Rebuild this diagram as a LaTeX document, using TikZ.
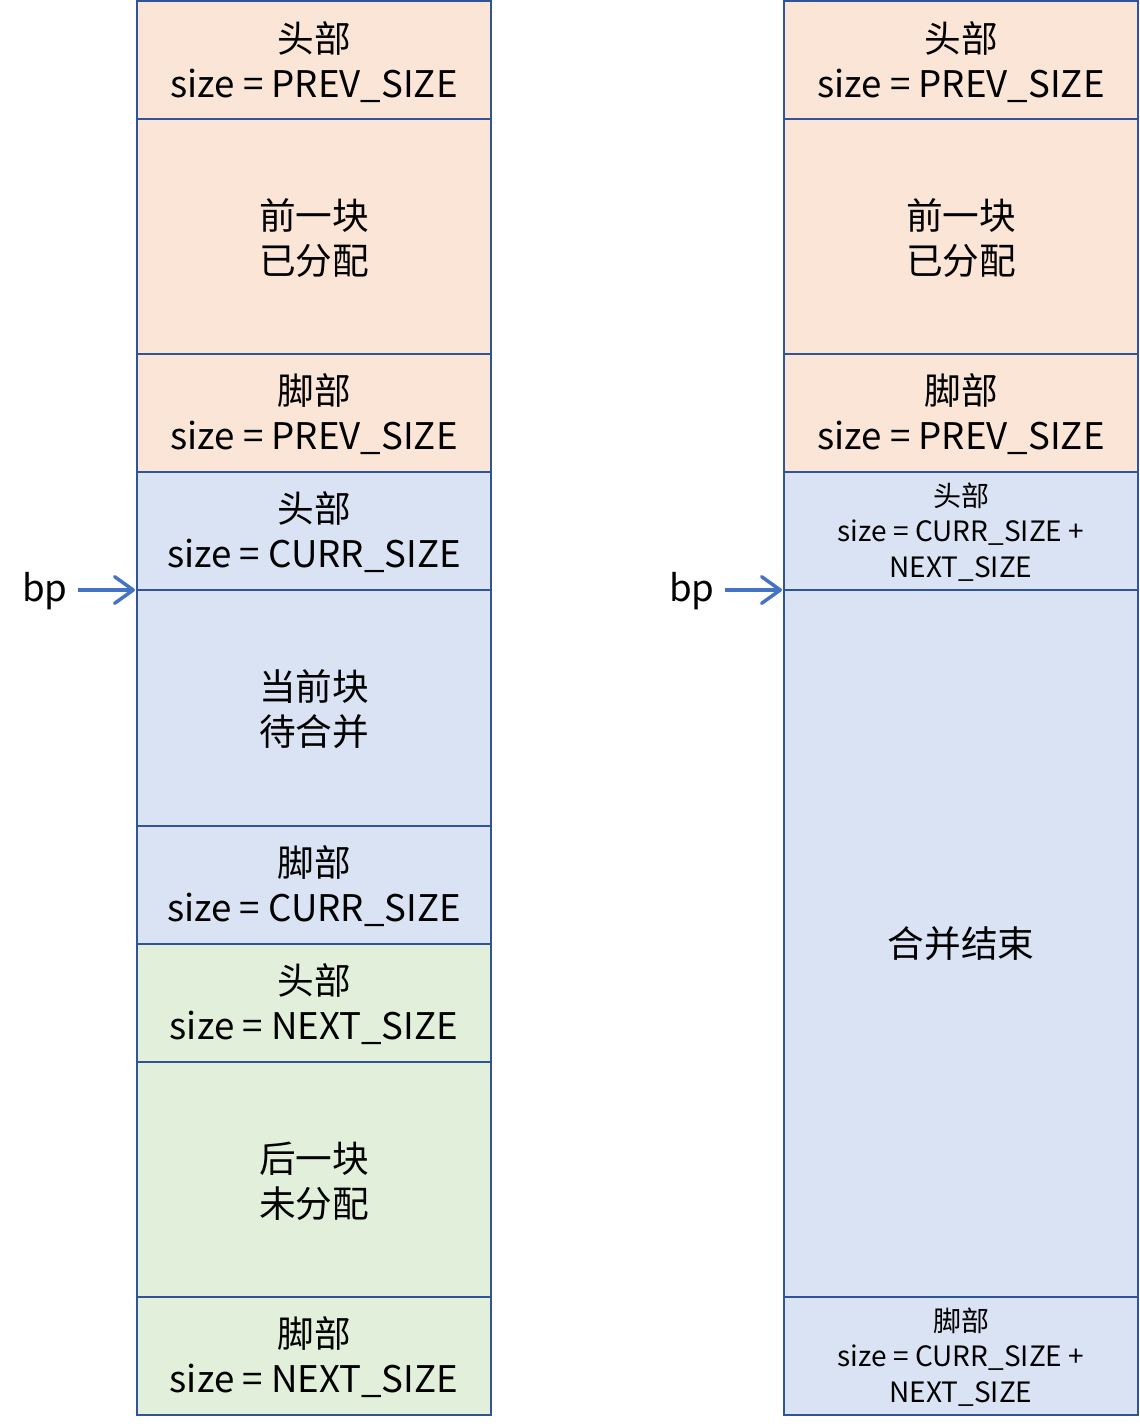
\documentclass[tikz,border=0pt]{standalone}
\usepackage{fontspec}
\setmainfont{Noto Sans CJK SC}
\usetikzlibrary{arrows.meta}
\definecolor{peach}{RGB}{251, 229, 214}
\definecolor{paleblue}{RGB}{218, 227, 243}
\definecolor{palegreen}{RGB}{226, 239, 218}
\definecolor{edgeblue}{RGB}{47, 85, 151}
\definecolor{arrowblue}{RGB}{68, 114, 196}
\tikzset{
  celltext/.style={align=center, font=\fontsize{27.5pt}{34pt}\selectfont, inner sep=0pt},
  smalltext/.style={align=center, font=\fontsize{21pt}{26.5pt}\selectfont, inner sep=0pt},
  cellbox/.style={draw=edgeblue, line width=1.5pt},
  bparrow/.style={draw=arrowblue, line width=2.6pt, -{Straight Barb[length=14pt, width=20pt, line width=2.6pt, line cap=round, line join=round]}}
}
\begin{document}
\begin{tikzpicture}[x=0.75pt, y=-0.75pt]
  \useasboundingbox (0,0) rectangle (1139,1427);
  % left column: before merging
  \filldraw[cellbox, fill=peach]     (137,   1) rectangle (491, 119);
  \filldraw[cellbox, fill=peach]     (137, 119) rectangle (491, 354);
  \filldraw[cellbox, fill=peach]     (137, 354) rectangle (491, 472);
  \filldraw[cellbox, fill=paleblue]  (137, 472) rectangle (491, 590);
  \filldraw[cellbox, fill=paleblue]  (137, 590) rectangle (491, 826);
  \filldraw[cellbox, fill=paleblue]  (137, 826) rectangle (491, 944);
  \filldraw[cellbox, fill=palegreen] (137, 944) rectangle (491,1062);
  \filldraw[cellbox, fill=palegreen] (137,1062) rectangle (491,1297);
  \filldraw[cellbox, fill=palegreen] (137,1297) rectangle (491,1415);
  \node[celltext] (lprevhead) at (314,  62) {头部\\size = PREV\_SIZE};
  \node[celltext] (lprevbody) at (314, 238) {前一块\\已分配};
  \node[celltext] (lprevfoot) at (314, 414) {脚部\\size = PREV\_SIZE};
  \node[celltext] (lcurrhead) at (314, 532) {头部\\size = CURR\_SIZE};
  \node[celltext] (lcurrbody) at (314, 709) {当前块\\待合并};
  \node[celltext] (lcurrfoot) at (314, 886) {脚部\\size = CURR\_SIZE};
  \node[celltext] (lnexthead) at (314,1004) {头部\\size = NEXT\_SIZE};
  \node[celltext] (lnextbody) at (314,1181) {后一块\\未分配};
  \node[celltext] (lnextfoot) at (314,1357) {脚部\\size = NEXT\_SIZE};
  % right column: after merging
  \filldraw[cellbox, fill=peach]     (784,   1) rectangle (1138, 119);
  \filldraw[cellbox, fill=peach]     (784, 119) rectangle (1138, 354);
  \filldraw[cellbox, fill=peach]     (784, 354) rectangle (1138, 472);
  \filldraw[cellbox, fill=paleblue]  (784, 472) rectangle (1138, 590);
  \filldraw[cellbox, fill=paleblue]  (784, 590) rectangle (1138,1297);
  \filldraw[cellbox, fill=paleblue]  (784,1297) rectangle (1138,1415);
  \node[celltext]  (rprevhead) at (961,  62) {头部\\size = PREV\_SIZE};
  \node[celltext]  (rprevbody) at (961, 238) {前一块\\已分配};
  \node[celltext]  (rprevfoot) at (961, 414) {脚部\\size = PREV\_SIZE};
  \node[smalltext] (rmergehead) at (961, 532) {头部\\size = CURR\_SIZE +\\NEXT\_SIZE};
  \node[celltext]  (rmergebody) at (961, 944) {合并结束};
  \node[smalltext] (rmergefoot) at (961,1357) {脚部\\size = CURR\_SIZE +\\NEXT\_SIZE};
  % bp pointers
  \node[celltext] (lbp) at (45, 591) {bp};
  \node[celltext] (rbp) at (692, 591) {bp};
  \coordinate (lbpend) at (135, 590);
  \coordinate (rbpend) at (782, 590);
  \draw[bparrow] (78, 590) -- (lbpend);
  \draw[bparrow] (725, 590) -- (rbpend);
\end{tikzpicture}
\end{document}
